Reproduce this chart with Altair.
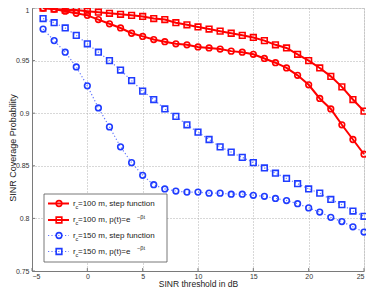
import altair as alt
import pandas as pd

x_vals = list(range(-4, 26))

r100_step = [1.000, 0.999, 0.997, 0.995, 0.993, 0.989, 0.985, 0.981, 0.976, 0.973,
             0.970, 0.968, 0.966, 0.965, 0.963, 0.962, 0.961, 0.959, 0.958, 0.956,
             0.952, 0.948, 0.943, 0.936, 0.927, 0.914, 0.904, 0.889, 0.875, 0.861]
r100_exp = [1.000, 0.999, 0.998, 0.998, 0.997, 0.996, 0.995, 0.994, 0.993, 0.992,
            0.990, 0.989, 0.986, 0.984, 0.982, 0.980, 0.978, 0.976, 0.974, 0.972,
            0.969, 0.965, 0.962, 0.956, 0.950, 0.943, 0.935, 0.925, 0.913, 0.902]
r150_step = [0.980, 0.969, 0.958, 0.944, 0.926, 0.905, 0.887, 0.868, 0.853, 0.841,
             0.832, 0.828, 0.826, 0.825, 0.825, 0.824, 0.824, 0.823, 0.823, 0.822,
             0.821, 0.819, 0.817, 0.814, 0.810, 0.806, 0.801, 0.797, 0.792, 0.787]
r150_exp = [0.990, 0.986, 0.981, 0.974, 0.966, 0.958, 0.950, 0.941, 0.931, 0.921,
            0.913, 0.904, 0.897, 0.889, 0.882, 0.875, 0.868, 0.863, 0.858, 0.853,
            0.848, 0.843, 0.838, 0.833, 0.828, 0.824, 0.818, 0.813, 0.807, 0.802]

series_names = ["r100 step", "r100 exp", "r150 step", "r150 exp"]
series_vals = [r100_step, r100_exp, r150_step, r150_exp]
series_colors = ["#ff0000", "#ff0000", "#1f3cff", "#1f3cff"]
series_shapes = ["circle", "square", "circle", "square"]
legend_main = ["=100 m, step function", "=100 m, p(t)=e", "=150 m, step function", "=150 m, p(t)=e"]
legend_sup = ["", "\u2212\u03b2t", "", "\u2212\u03b2t"]

x_ticks = [-5, 0, 5, 10, 15, 20, 25]
y_ticks = [0.75, 0.8, 0.85, 0.9, 0.95, 1.0]

rows = []
for name, vals in zip(series_names, series_vals):
    for xv, yv in zip(x_vals, vals):
        rows.append({"x": xv, "y": yv, "series": name})
df = pd.DataFrame(rows)

W, H = 332, 263
xs = alt.Scale(domain=[-5, 25], nice=False, zero=False)
ys = alt.Scale(domain=[0.75, 1.0], nice=False, zero=False)

base = alt.Chart(df)
color_scale = alt.Scale(domain=series_names, range=series_colors)
shape_scale = alt.Scale(domain=series_names, range=series_shapes)

xenc = alt.X("x:Q", scale=xs,
             axis=alt.Axis(values=x_ticks, format="~g", title="SINR threshold in dB",
                           grid=True, gridDash=[1, 2], gridColor="#b0b0b0",
                           domainColor="#7a7a7a", ticks=False, labelFontSize=7,
                           labelColor="#333", labelFont="Liberation Sans",
                           labelPadding=1, titleFont="Liberation Sans",
                           titleFontSize=8.5, titleFontWeight="normal", titleColor="#222",
                           titleX=W / 2, titleY=15, titleBaseline="alphabetic",
                           titleAlign="center"))
yenc = alt.Y("y:Q", scale=ys,
             axis=alt.Axis(values=y_ticks, format="~g", title="SINR Coverage Probability",
                           grid=True, gridDash=[1, 2], gridColor="#b0b0b0",
                           domainColor="#7a7a7a", ticks=False, labelFontSize=7,
                           labelColor="#333", labelFont="Liberation Sans",
                           labelPadding=3,
                           labelOffset=alt.condition("datum.value == 1", alt.value(2.5), alt.value(0)),
                           titleFont="Liberation Sans",
                           titleFontSize=9, titleFontWeight="normal", titleColor="#222",
                           titleX=-17, titleY=H / 2 + 8, titleBaseline="alphabetic",
                           titleAlign="center", titleAngle=270))

red_lines = base.transform_filter(
    alt.FieldOneOfPredicate(field="series", oneOf=series_names[:2])
).mark_line(strokeWidth=2).encode(
    x=xenc, y=yenc,
    color=alt.Color("series:N", scale=color_scale, legend=None),
    detail="series:N",
)
blue_lines = base.transform_filter(
    alt.FieldOneOfPredicate(field="series", oneOf=series_names[2:])
).mark_line(strokeWidth=1.2, strokeDash=[1.2, 2.2], opacity=0.7).encode(
    x="x:Q", y="y:Q",
    color=alt.Color("series:N", scale=color_scale, legend=None),
    detail="series:N",
)
points = base.mark_point(size=32, strokeWidth=1.6, filled=False, opacity=1).encode(
    x="x:Q", y="y:Q",
    color=alt.Color("series:N", scale=color_scale, legend=None),
    shape=alt.Shape("series:N", scale=shape_scale, legend=None),
)

# inward ticks
xt = alt.Chart(pd.DataFrame({"t": x_ticks})).mark_rule(color="#7a7a7a", strokeWidth=1).encode(
    x="t:Q", y=alt.value(H), y2=alt.value(H - 3))
yt = alt.Chart(pd.DataFrame({"t": y_ticks})).mark_rule(color="#7a7a7a", strokeWidth=1).encode(
    y=alt.Y("t:Q", scale=ys), x=alt.value(0), x2=alt.value(3))

# legend
one = pd.DataFrame({"a": [0]})
leg = [alt.Chart(one).mark_rect(fill="white", stroke="#555", strokeWidth=0.8).encode(
    x=alt.value(12), x2=alt.value(135), y=alt.value(186), y2=alt.value(254))]
row_y = [195.5, 212, 227.5, 243.5]
for i in range(4):
    yy = row_y[i]
    c = series_colors[i]
    if i < 2:
        leg.append(alt.Chart(one).mark_rule(color=c, strokeWidth=2).encode(
            x=alt.value(16), x2=alt.value(37), y=alt.value(yy)))
    else:
        leg.append(alt.Chart(one).mark_rule(color=c, strokeWidth=1.2, strokeDash=[1.2, 2.2], opacity=0.7).encode(
            x=alt.value(16), x2=alt.value(37), y=alt.value(yy)))
    leg.append(alt.Chart(one).mark_point(shape=series_shapes[i], color=c, size=32, strokeWidth=1.6, filled=False, opacity=1).encode(
        x=alt.value(27), y=alt.value(yy)))
    leg.append(alt.Chart(one).mark_text(text="r", font="Liberation Sans", fontSize=8, align="left", baseline="middle", color="#222").encode(
        x=alt.value(41), y=alt.value(yy)))
    leg.append(alt.Chart(one).mark_text(text="c", font="Liberation Sans", fontSize=5.5, align="left", baseline="middle", color="#222").encode(
        x=alt.value(43.5), y=alt.value(yy + 3)))
    leg.append(alt.Chart(one).mark_text(text=legend_main[i], font="Liberation Sans", fontSize=8, align="left", baseline="middle", color="#222").encode(
        x=alt.value(46), y=alt.value(yy)))
    if legend_sup[i]:
        leg.append(alt.Chart(one).mark_text(text=legend_sup[i], font="Liberation Sans", fontSize=5.5, align="left", baseline="middle", color="#222").encode(
            x=alt.value(105), y=alt.value(yy - 3.5)))

chart = alt.layer(red_lines, blue_lines, points, xt, yt, *leg).properties(
    width=W, height=H,
    autosize=alt.AutoSizeParams(type="none"),
    padding={"left": 24, "top": 0, "right": 2, "bottom": 17},
).configure_view(stroke=None).configure(background="white")

chart.save("out.html", embed_options={"renderer": "svg", "actions": False})
